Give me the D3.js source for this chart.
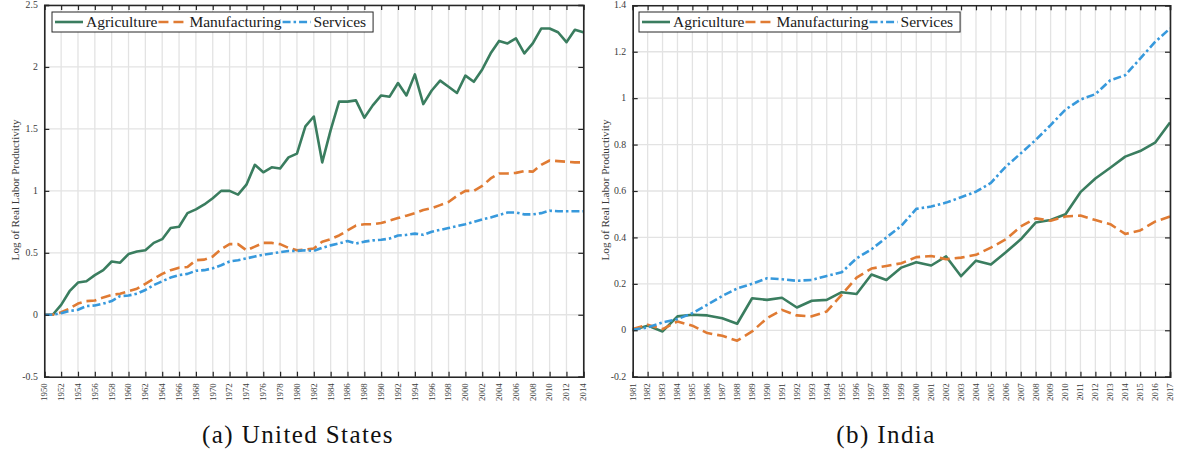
<!DOCTYPE html>
<html>
<head>
<meta charset="utf-8">
<script src="https://cdn.jsdelivr.net/npm/d3@7/dist/d3.min.js"></script>
<style>
  html, body { margin: 0; padding: 0; background: #fff; }
  svg { display: block; }
</style>
</head>
<body>
<svg id="chart" width="1178" height="456" font-family="'Liberation Serif', 'Times New Roman', 'DejaVu Serif', serif"></svg>
<script>
// ---- United States, 1950–2014 ----
const usYears = d3.range(1950, 2015);
const usAgriculture = [
  0.00, 0.00, 0.08, 0.19, 0.26, 0.27, 0.32, 0.36, 0.43, 0.42,
  0.49, 0.51, 0.52, 0.58, 0.61, 0.70, 0.71, 0.82, 0.85, 0.89,
  0.94, 1.00, 1.00, 0.97, 1.05, 1.21, 1.15, 1.19, 1.18, 1.27,
  1.30, 1.52, 1.60, 1.23, 1.49, 1.72, 1.72, 1.73, 1.59, 1.69,
  1.77, 1.76, 1.87, 1.77, 1.94, 1.70, 1.81, 1.89, 1.84, 1.79,
  1.93, 1.88, 1.98, 2.11, 2.21, 2.19, 2.23, 2.11, 2.19, 2.31,
  2.31, 2.28, 2.20, 2.30, 2.28
];
const usManufacturing = [
  0.00, 0.00, 0.02, 0.05, 0.09, 0.11, 0.115, 0.14, 0.16, 0.17,
  0.19, 0.21, 0.25, 0.29, 0.33, 0.36, 0.38, 0.385, 0.44, 0.445,
  0.47, 0.53, 0.57, 0.57, 0.52, 0.55, 0.58, 0.58, 0.57, 0.54,
  0.52, 0.525, 0.535, 0.59, 0.61, 0.64, 0.68, 0.72, 0.73, 0.73,
  0.74, 0.76, 0.78, 0.80, 0.82, 0.845, 0.86, 0.885, 0.91, 0.96,
  1.00, 1.00, 1.04, 1.10, 1.14, 1.14, 1.145, 1.16, 1.155, 1.21,
  1.245, 1.24, 1.235, 1.23, 1.23
];
const usServices = [
  0.00, 0.00, 0.013, 0.03, 0.04, 0.07, 0.075, 0.09, 0.11, 0.15,
  0.155, 0.17, 0.20, 0.24, 0.27, 0.30, 0.32, 0.33, 0.355, 0.36,
  0.375, 0.40, 0.43, 0.44, 0.455, 0.47, 0.485, 0.495, 0.505, 0.515,
  0.515, 0.52, 0.515, 0.54, 0.56, 0.575, 0.595, 0.575, 0.59, 0.60,
  0.605, 0.615, 0.64, 0.645, 0.655, 0.645, 0.67, 0.685, 0.70, 0.715,
  0.73, 0.75, 0.77, 0.785, 0.805, 0.825, 0.825, 0.81, 0.81, 0.82,
  0.84, 0.835, 0.835, 0.835, 0.835
];
const usXTicks = d3.range(1950, 2015, 2);
const usYTicks = [-0.5, 0, 0.5, 1, 1.5, 2, 2.5];
const usYTickLabels = ["-0.5", "0", "0.5", "1", "1.5", "2", "2.5"];

// ---- India, 1981–2017 ----
const inYears = d3.range(1981, 2018);
const inAgriculture = [
  0.000, 0.020, -0.005, 0.060, 0.067, 0.064, 0.052, 0.028, 0.138, 0.131,
  0.140, 0.098, 0.127, 0.131, 0.164, 0.156, 0.240, 0.217, 0.270, 0.293,
  0.279, 0.318, 0.233, 0.300, 0.283, 0.336, 0.392, 0.464, 0.475, 0.500,
  0.595, 0.654, 0.700, 0.748, 0.772, 0.808, 0.895
];
const inManufacturing = [
  0.006, 0.024, 0.005, 0.038, 0.020, -0.012, -0.024, -0.045, -0.005, 0.052,
  0.088, 0.064, 0.060, 0.081, 0.153, 0.227, 0.266, 0.277, 0.289, 0.315,
  0.320, 0.306, 0.313, 0.325, 0.356, 0.392, 0.447, 0.482, 0.472, 0.490,
  0.494, 0.475, 0.457, 0.415, 0.430, 0.468, 0.490
];
const inServices = [
  0.002, 0.012, 0.034, 0.048, 0.074, 0.110, 0.148, 0.180, 0.200, 0.224,
  0.220, 0.213, 0.217, 0.234, 0.250, 0.310, 0.349, 0.400, 0.450, 0.523,
  0.533, 0.550, 0.573, 0.597, 0.635, 0.705, 0.762, 0.820, 0.884, 0.951,
  0.994, 1.017, 1.077, 1.099, 1.170, 1.242, 1.300
];
const inXTicks = d3.range(1981, 2018, 1);
const inYTicks = [-0.2, 0, 0.2, 0.4, 0.6, 0.8, 1, 1.2, 1.4];
const inYTickLabels = ["-0.2", "0", "0.2", "0.4", "0.6", "0.8", "1", "1.2", "1.4"];

const seriesNames = ["Agriculture", "Manufacturing", "Services"];
const seriesColors = ["#3a7d5f", "#e07b33", "#3799dc"];
const seriesDash = [null, "10,5", "8,3,2.5,3"];

const svg = d3.select("#chart");

function drawPanel(opt) {
  const g = svg.append("g");
  const x = d3.scaleLinear().domain(opt.xDomain).range([opt.left, opt.right]);
  const y = d3.scaleLinear().domain(opt.yDomain).range([opt.bottom, opt.top]);

  // grid
  g.append("g").selectAll("line").data(opt.xTicks).join("line")
    .attr("x1", d => x(d)).attr("x2", d => x(d))
    .attr("y1", opt.top).attr("y2", opt.bottom)
    .attr("stroke", "#e3e3e3").attr("stroke-width", 1.3);
  g.append("g").selectAll("line").data(opt.yTicks).join("line")
    .attr("x1", opt.left).attr("x2", opt.right)
    .attr("y1", d => y(d)).attr("y2", d => y(d))
    .attr("stroke", "#e3e3e3").attr("stroke-width", 1.3);

  // series
  const line = d3.line().x((d, i) => x(opt.years[i])).y(d => y(d));
  opt.series.forEach((s, k) => {
    g.append("path").datum(s)
      .attr("d", line)
      .attr("fill", "none")
      .attr("stroke", seriesColors[k])
      .attr("stroke-width", 2.6)
      .attr("stroke-linejoin", "round")
      .attr("stroke-dasharray", seriesDash[k]);
  });

  // axes (box with inward ticks)
  const tick = 5;
  const bottomAxis = d3.axisBottom(x).tickValues(opt.xTicks).tickSize(-tick).tickFormat("");
  const topAxis = d3.axisTop(x).tickValues(opt.xTicks).tickSize(-tick).tickFormat("");
  const leftAxis = d3.axisLeft(y).tickValues(opt.yTicks).tickSize(-tick).tickFormat("");
  const rightAxis = d3.axisRight(y).tickValues(opt.yTicks).tickSize(-tick).tickFormat("");
  [[bottomAxis, `translate(0,${opt.bottom})`], [topAxis, `translate(0,${opt.top})`],
   [leftAxis, `translate(${opt.left},0)`], [rightAxis, `translate(${opt.right},0)`]]
    .forEach(([ax, tr]) => {
      const a = g.append("g").attr("transform", tr).call(ax);
      a.select(".domain").attr("stroke", "#262626").attr("stroke-width", 1.6);
      a.selectAll(".tick line").attr("stroke", "#262626").attr("stroke-width", 1.2);
    });

  // y tick labels
  g.append("g").selectAll("text").data(opt.yTicks).join("text")
    .attr("x", opt.left - 6.5).attr("y", d => y(d)).attr("dy", "0.32em")
    .attr("text-anchor", "end").attr("font-size", 9.8).attr("fill", "#3a3a3a")
    .text((d, i) => opt.yTickLabels[i]);

  // x tick labels, rotated
  g.append("g").selectAll("text").data(opt.xTicks).join("text")
    .attr("transform", d => `translate(${x(d)},${opt.bottom + 6.5}) rotate(-90)`)
    .attr("dy", "0.32em")
    .attr("text-anchor", "end").attr("font-size", 8.9).attr("fill", "#3a3a3a")
    .text(d => d);

  // y title
  g.append("text")
    .attr("transform", `translate(${opt.yTitleX},${(opt.top + opt.bottom) / 2 - 1}) rotate(-90)`)
    .attr("text-anchor", "middle").attr("dy", "0.32em")
    .attr("font-size", 11.2).attr("fill", "#3a3a3a")
    .text("Log of Real Labor Productivity");

  // legend
  const lg = g.append("g");
  const box = lg.append("rect")
    .attr("fill", "#fff").attr("stroke", "#262626").attr("stroke-width", 1);
  let cx = opt.legendX + 3;
  const ly = opt.legendY + 10;
  seriesNames.forEach((name, k) => {
    lg.append("line")
      .attr("x1", cx).attr("x2", cx + 28).attr("y1", ly).attr("y2", ly)
      .attr("stroke", seriesColors[k]).attr("stroke-width", 2.6)
      .attr("stroke-dasharray", seriesDash[k]);
    const t = lg.append("text")
      .attr("x", cx + 31).attr("y", ly).attr("dy", "0.33em")
      .attr("font-size", 15.5).attr("fill", "#1a1a1a")
      .text(name);
    cx += 31 + t.node().getComputedTextLength() + 1;
  });
  box.attr("x", opt.legendX).attr("y", opt.legendY)
    .attr("width", cx - opt.legendX + 6).attr("height", 20);

  // caption
  svg.append("text")
    .attr("x", opt.captionX).attr("y", 443)
    .attr("text-anchor", "middle").attr("font-size", 25).attr("fill", "#111")
    .attr("letter-spacing", 1.4)
    .text(opt.caption);
}

drawPanel({
  years: usYears,
  series: [usAgriculture, usManufacturing, usServices],
  xDomain: [1950, 2014], yDomain: [-0.5, 2.5],
  left: 44.3, right: 583.3, top: 5, bottom: 376.7,
  xTicks: usXTicks, yTicks: usYTicks, yTickLabels: usYTickLabels,
  yTitleX: 15, legendX: 52, legendY: 12,
  caption: "(a) United States", captionX: 298
});

drawPanel({
  years: inYears,
  series: [inAgriculture, inManufacturing, inServices],
  xDomain: [1981, 2017], yDomain: [-0.2, 1.4],
  left: 632.7, right: 1170, top: 5.3, bottom: 376.7,
  xTicks: inXTicks, yTicks: inYTicks, yTickLabels: inYTickLabels,
  yTitleX: 605, legendX: 639, legendY: 12,
  caption: "(b) India", captionX: 886
});
</script>
</body>
</html>
